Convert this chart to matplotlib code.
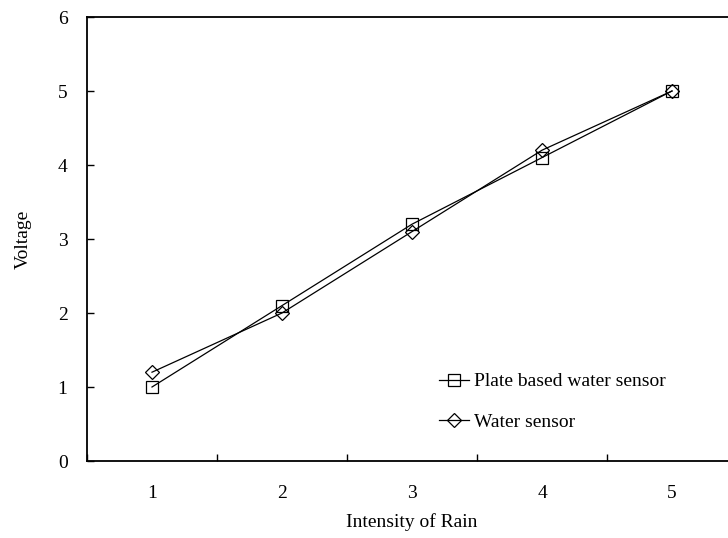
import matplotlib.pyplot as plt

plt.rcParams['font.family'] = ['Liberation Serif', 'DejaVu Serif']

# Data
intensity = [1, 2, 3, 4, 5]
plate_sensor = [1.0, 2.1, 3.2, 4.1, 5.0]
water_sensor = [1.2, 2.0, 3.1, 4.2, 5.0]

fig = plt.figure(figsize=(7.28, 5.38), dpi=100)
# axes extends past right edge of the figure like the original
ax = fig.add_axes([87 / 728, 77 / 538, 650 / 728, 444 / 538])

ax.plot(intensity, plate_sensor, color='black', linewidth=0.9, marker='s',
        markersize=9, markerfacecolor='none', markeredgewidth=0.9,
        label='Plate based water sensor')
ax.plot(intensity, water_sensor, color='black', linewidth=0.9, marker='D',
        markersize=7.5, markerfacecolor='none', markeredgewidth=0.9,
        label='Water sensor')

ax.set_xlim(0.5, 5.5)
ax.set_ylim(0, 6)
ax.set_xticks([0.5, 1.5, 2.5, 3.5, 4.5, 5.5])
ax.set_xticklabels([])
ax.set_xticks(intensity, minor=True)
ax.set_xticklabels([str(i) for i in intensity], minor=True)
ax.set_yticks(range(7))

ax.tick_params(axis='x', which='major', direction='in', length=5, width=1)
ax.tick_params(axis='x', which='minor', length=0, pad=17, labelsize=14)
ax.tick_params(axis='y', direction='in', length=5, width=1, pad=14, labelsize=14)

for sp in ax.spines.values():
    sp.set_linewidth(1.3)

ax.set_xlabel('Intensity of Rain', fontsize=14, labelpad=8)
ax.set_ylabel('Voltage', fontsize=14, labelpad=19)

ax.legend(loc='center left', bbox_to_anchor=(335 / 650, 59 / 444), frameon=False,
          fontsize=14, handlelength=1.5, handletextpad=0.3, labelspacing=1.2)

fig.savefig('out.png', dpi=100)
